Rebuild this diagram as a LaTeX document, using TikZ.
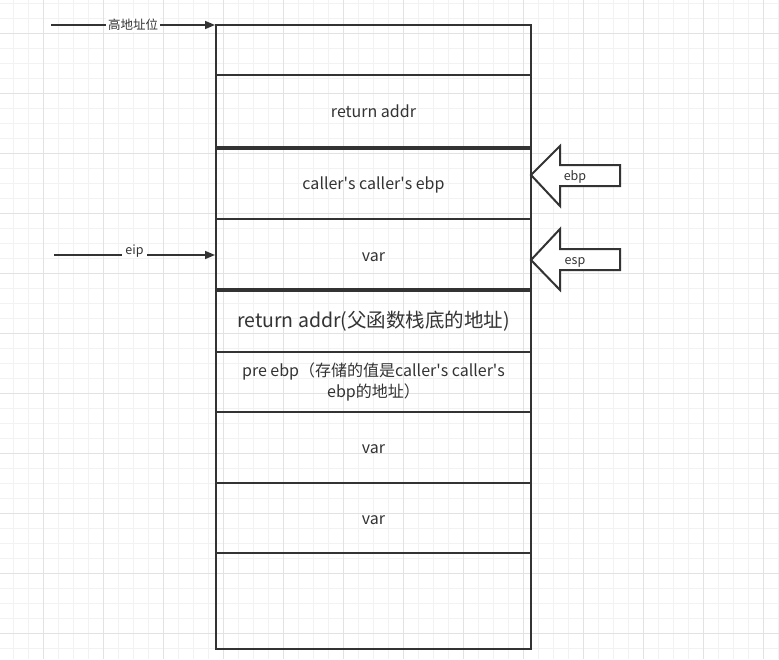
\documentclass[tikz,border=0pt]{standalone}
\usepackage{fontspec}
\setmainfont{Noto Sans CJK SC}
\usetikzlibrary{arrows.meta}
\definecolor{ink}{HTML}{333333}
\definecolor{gridminor}{HTML}{F2F2F2}
\definecolor{gridmajor}{HTML}{E2E2E2}
\begin{document}
\begin{tikzpicture}[x=1pt,y=-1pt,
  cell/.style={draw=ink, line width=2pt, minimum width=315pt, anchor=north west, inner sep=0pt, text=ink, font=\fontsize{16}{21}\selectfont, align=center},
  onecell/.style={cell, text height=12pt, text depth=0pt},
  bigcell/.style={onecell, font=\fontsize{19.5}{23}\selectfont},
  lbl/.style={text=ink, font=\fontsize{12.5}{14}\selectfont, inner sep=1pt},
  ptr/.style={draw=ink, line width=1.5pt, -{Triangle[length=10pt,width=8pt]}},
  blk/.style={draw=ink, line width=2pt, fill=white, line join=miter},
  sep/.style={draw=ink, line width=3.2pt}]
\useasboundingbox (0,0) rectangle (779,659);
\fill[white] (0,0) rectangle (779,659);
\foreach \x in {13,28,...,778} \draw[gridminor, line width=1pt] (\x,0) -- (\x,659);
\foreach \y in {3,18,...,658} \draw[gridminor, line width=1pt] (0,\y) -- (779,\y);
\foreach \x in {43,103,...,778} \draw[gridmajor, line width=1pt] (\x,0) -- (\x,659);
\foreach \y in {33,93,...,658} \draw[gridmajor, line width=1pt] (0,\y) -- (779,\y);

% stack cells
\node[cell, minimum height=50pt] (top) at (215,24) {};
\node[onecell, minimum height=72pt] (ret) at (215,74) {return addr};
\node[onecell, minimum height=71pt] (cce) at (215,147) {caller\textquotesingle s caller\textquotesingle s ebp};
\node[onecell, minimum height=72pt] (var1) at (215,218) {var};
\node[bigcell, minimum height=61pt] (ret2) at (215,290) {return addr(父函数栈底的地址)};
\node[cell, minimum height=60pt] (pre) at (215,351) {pre ebp（存储的值是caller\textquotesingle s caller\textquotesingle s\\ebp的地址）};
\node[onecell, minimum height=71pt] (var2) at (215,411) {var};
\node[onecell, minimum height=70pt] (var3) at (215,482) {var};
\node[cell, minimum height=96pt] (bot) at (215,552) {};
\draw[sep] (ret.south west) -- (ret.south east);
\draw[sep] (ret2.north west) -- (ret2.north east);

% left pointers
\coordinate (hiS) at (51,25);
\draw[ptr] (hiS) -- node[lbl, fill=white, inner xsep=2pt] (hiL) {高地址位} (hiS -| top.west);
\coordinate (eipS) at (54,255);
\draw[ptr] (eipS) -- node[lbl, fill=white, inner xsep=3pt, yshift=4pt] (eipL) {eip} (eipS -| var1.west);

% block arrows
\draw[blk] (531,175) -- (560,146) -- (560,165) -- (620,165) -- (620,186) -- (560,186) -- (560,206) -- cycle;
\node[lbl] (ebpL) at (575,177) {ebp};
\draw[blk] (531,260) -- (560,229) -- (560,249) -- (620,249) -- (620,270) -- (560,270) -- (560,290) -- cycle;
\node[lbl] (espL) at (575,262) {esp};
\end{tikzpicture}
\end{document}
